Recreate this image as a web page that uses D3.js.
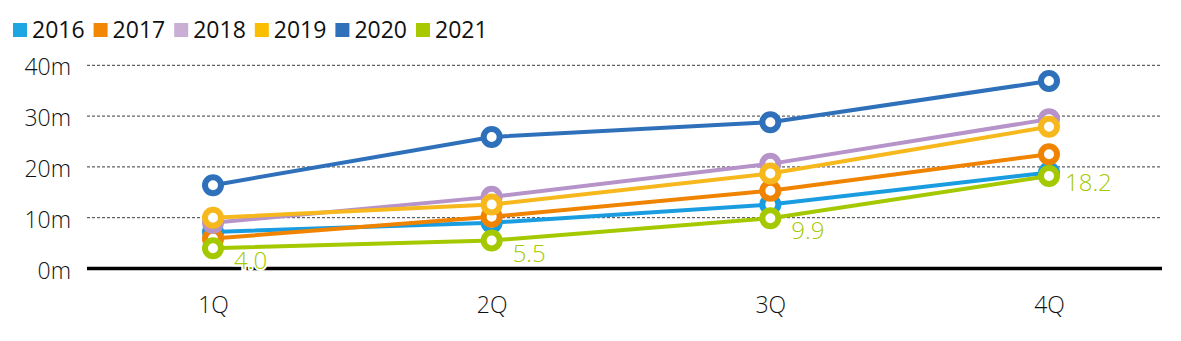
<!DOCTYPE html>
<html>
<head>
<meta charset="utf-8">
<script src="https://cdn.jsdelivr.net/npm/d3@7"></script>
<style>
  html, body { margin: 0; padding: 0; background: #fff; }
  svg { display: block; font-family: "Open Sans", "Noto Sans", sans-serif; }
</style>
</head>
<body>
<svg id="chart" width="1181" height="341"></svg>
<script>
const categories = ["1Q", "2Q", "3Q", "4Q"];
const seriesNames = ["2016", "2017", "2018", "2019", "2020", "2021"];
const v2016 = [7.2, 9.0, 12.6, 18.9];
const v2017 = [5.9, 10.2, 15.3, 22.5];
const v2018 = [9.0, 14.1, 20.6, 29.4];
const v2019 = [10.0, 12.6, 18.7, 27.9];
const v2020 = [16.4, 25.9, 28.8, 36.9];
const v2021 = [4.0, 5.5, 9.9, 18.2];
const yTicks = [0, 10, 20, 30, 40];
const yTickLabels = ["0m", "10m", "20m", "30m", "40m"];
const colors = ["#1a9de0", "#f08300", "#b693c9", "#f6b81c", "#2e70ba", "#a5c900"];
const legendColors = ["#1ea6e3", "#f28705", "#c8afd3", "#fbbd00", "#2e70ba", "#a8c800"];
const labelSeries = "2021";

const allValues = [v2016, v2017, v2018, v2019, v2020, v2021];
const series = seriesNames.map((n, i) => ({ name: n, values: allValues[i], color: colors[i] }));

const svg = d3.select("#chart");
const plotLeft = 87, plotRight = 1162;

const x = d3.scalePoint().domain(categories).range([213, 1049]);
const y = d3.scaleLinear().domain([0, 40]).range([268.5, 65.3]);

// gridlines
svg.append("g").selectAll("line")
  .data(yTicks.filter(t => t > 0))
  .join("line")
  .attr("x1", plotLeft).attr("x2", plotRight)
  .attr("y1", d => y(d)).attr("y2", d => y(d))
  .attr("stroke", "#3a3a3a").attr("stroke-width", 1)
  .attr("stroke-dasharray", "3,2");

// y axis labels
const yAxis = d3.axisLeft(y).tickValues(yTicks)
  .tickFormat((d, i) => yTickLabels[i]).tickSize(0).tickPadding(16);
const gy = svg.append("g").attr("transform", `translate(${plotLeft},0)`).call(yAxis);
gy.select(".domain").remove();
gy.selectAll("text").attr("font-size", 23).attr("font-weight", 300)
  .attr("dy", "0.42em")
  .attr("fill", "#111").attr("font-family", "'Open Sans', sans-serif");

// x axis labels
const xAxis = d3.axisBottom(x).tickSize(0).tickPadding(28);
const gx = svg.append("g").attr("transform", `translate(0,${y(0)})`).call(xAxis);
gx.select(".domain").remove();
gx.selectAll("text").attr("font-size", 23).attr("font-weight", 300)
  .attr("fill", "#111").attr("font-family", "'Open Sans', sans-serif");

// baseline
svg.append("line")
  .attr("x1", plotLeft).attr("x2", plotRight)
  .attr("y1", y(0)).attr("y2", y(0))
  .attr("stroke", "#000").attr("stroke-width", 3.5);

const line = d3.line().x((d, i) => x(categories[i])).y(d => y(d));

series.forEach(s => {
  const g = svg.append("g");
  g.append("path").datum(s.values)
    .attr("d", line).attr("fill", "none")
    .attr("stroke", s.color).attr("stroke-width", 4);
  g.selectAll("circle").data(s.values).join("circle")
    .attr("cx", (d, i) => x(categories[i])).attr("cy", d => y(d))
    .attr("r", 8).attr("fill", "#fff")
    .attr("stroke", s.color).attr("stroke-width", 6);
});

// data labels for 2021 (below-right, last one to the right)
const ls = series.find(s => s.name === labelSeries);
const n = ls.values.length;
svg.append("g").selectAll("text").data(ls.values).join("text")
  .attr("x", (d, i) => x(categories[i]) + (i === n - 1 ? 16 : 21))
  .attr("y", d => y(d))
  .attr("dy", (d, i) => i === n - 1 ? 15 : 21)
  .text(d => d.toFixed(1))
  .attr("font-size", 24).attr("font-weight", 300)
  .attr("fill", ls.color)
  .attr("stroke", "#fff").attr("stroke-width", 4)
  .attr("paint-order", "stroke");

// legend
const legend = svg.append("g").attr("transform", "translate(13,0)");
const items = legend.selectAll("g").data(seriesNames).join("g")
  .attr("transform", (d, i) => `translate(${i * 80.6},0)`);
items.append("rect").attr("x", 0).attr("y", 23).attr("width", 14).attr("height", 14)
  .attr("fill", (d, i) => legendColors[i]);
items.append("text").attr("x", 19).attr("y", 38).text(d => d)
  .attr("font-size", 23).attr("font-weight", 400).attr("fill", "#111");
</script>
</body>
</html>
